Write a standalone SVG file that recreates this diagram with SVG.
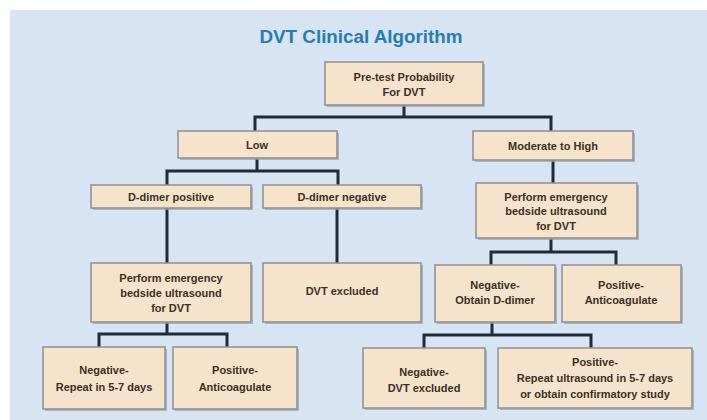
<svg xmlns="http://www.w3.org/2000/svg" width="707" height="420" viewBox="0 0 707 420">
<defs>
<style>
.bg{fill:#d6e4f3}
.sh{fill:#9aa0a8;opacity:0.7}
.bx{fill:#f6e3cb;stroke:#8e8e8e;stroke-width:1.5}
.t{font-family:"Liberation Sans",Arial,sans-serif;font-weight:bold;font-size:11px;fill:#3b3024;text-anchor:middle}
.ttl{font-family:"Liberation Sans",Arial,sans-serif;font-weight:bold;font-size:18px;fill:#2b7cad;text-anchor:middle}
.c{fill:none;stroke:#1f2b3b;stroke-width:3;stroke-linejoin:miter}
</style>
</defs>
<rect x="0" y="0" width="707" height="420" fill="#ffffff"/>
<rect class="bg" x="10" y="10" width="697" height="410"/>
<text class="ttl" x="361" y="43" textLength="203" lengthAdjust="spacingAndGlyphs">DVT Clinical Algorithm</text>

<g id="connectors">
<path class="c" d="M404 105 V117 M255 131 V117 H551 V131"/>
<path class="c" d="M257 158 V171 M167 185 V171 H338 V185"/>
<path class="c" d="M167 208 V263 M337 208 V263"/>
<path class="c" d="M553 160 V183"/>
<path class="c" d="M551 238 V252 M491 265 V252 H616 V265"/>
<path class="c" d="M167 322 V334 M99 347 V334 H227 V347"/>
<path class="c" d="M492 322 V335 M424 348 V335 H591 V348"/>
</g>

<g id="pretest">
<rect class="sh" x="327" y="64" width="158" height="43"/>
<rect class="bx" x="325" y="62" width="158" height="43"/>
<text class="t" x="404" y="81">Pre-test Probability</text>
<text class="t" x="404" y="96">For DVT</text>
</g>
<g id="low">
<rect class="sh" x="180" y="133" width="159" height="27"/>
<rect class="bx" x="178" y="131" width="159" height="27"/>
<text class="t" x="257" y="149">Low</text>
</g>
<g id="moderate">
<rect class="sh" x="475" y="133" width="160" height="29"/>
<rect class="bx" x="473" y="131" width="160" height="29"/>
<text class="t" x="553" y="150">Moderate to High</text>
</g>
<g id="ddimer-pos">
<rect class="sh" x="93" y="187" width="160" height="23"/>
<rect class="bx" x="91" y="185" width="160" height="23"/>
<text class="t" x="171" y="201">D-dimer positive</text>
</g>
<g id="ddimer-neg">
<rect class="sh" x="265" y="187" width="158" height="23"/>
<rect class="bx" x="263" y="185" width="158" height="23"/>
<text class="t" x="342" y="201">D-dimer negative</text>
</g>
<g id="us-right">
<rect class="sh" x="478" y="185" width="161" height="55"/>
<rect class="bx" x="476" y="183" width="161" height="55"/>
<text class="t" x="556" y="201">Perform emergency</text>
<text class="t" x="556" y="215">bedside ultrasound</text>
<text class="t" x="556" y="230">for DVT</text>
</g>
<g id="us-left">
<rect class="sh" x="93" y="265" width="160" height="59"/>
<rect class="bx" x="91" y="263" width="160" height="59"/>
<text class="t" x="171" y="282">Perform emergency</text>
<text class="t" x="171" y="297">bedside ultrasound</text>
<text class="t" x="171" y="312">for DVT</text>
</g>
<g id="dvt-excluded">
<rect class="sh" x="265" y="265" width="158" height="59"/>
<rect class="bx" x="263" y="263" width="158" height="59"/>
<text class="t" x="342" y="295">DVT excluded</text>
</g>
<g id="neg-obtain">
<rect class="sh" x="437" y="267" width="120" height="57"/>
<rect class="bx" x="435" y="265" width="120" height="57"/>
<text class="t" x="495" y="289">Negative-</text>
<text class="t" x="495" y="304">Obtain D-dimer</text>
</g>
<g id="pos-anticoag-right">
<rect class="sh" x="564" y="267" width="119" height="57"/>
<rect class="bx" x="562" y="265" width="119" height="57"/>
<text class="t" x="621" y="289">Positive-</text>
<text class="t" x="621" y="304">Anticoagulate</text>
</g>
<g id="neg-repeat">
<rect class="sh" x="45" y="349" width="122" height="62"/>
<rect class="bx" x="43" y="347" width="122" height="62"/>
<text class="t" x="104" y="374">Negative-</text>
<text class="t" x="104" y="391">Repeat in 5-7 days</text>
</g>
<g id="pos-anticoag-left">
<rect class="sh" x="175" y="349" width="124" height="62"/>
<rect class="bx" x="173" y="347" width="124" height="62"/>
<text class="t" x="235" y="374">Positive-</text>
<text class="t" x="235" y="391">Anticoagulate</text>
</g>
<g id="neg-dvt-excluded">
<rect class="sh" x="365" y="350" width="122" height="60"/>
<rect class="bx" x="363" y="348" width="122" height="60"/>
<text class="t" x="424" y="376">Negative-</text>
<text class="t" x="424" y="392">DVT excluded</text>
</g>
<g id="pos-repeat">
<rect class="sh" x="500" y="350" width="194" height="60"/>
<rect class="bx" x="498" y="348" width="194" height="60"/>
<text class="t" x="595" y="366">Positive-</text>
<text class="t" x="595" y="382">Repeat ultrasound in 5-7 days</text>
<text class="t" x="595" y="398">or obtain confirmatory study</text>
</g>
</svg>
